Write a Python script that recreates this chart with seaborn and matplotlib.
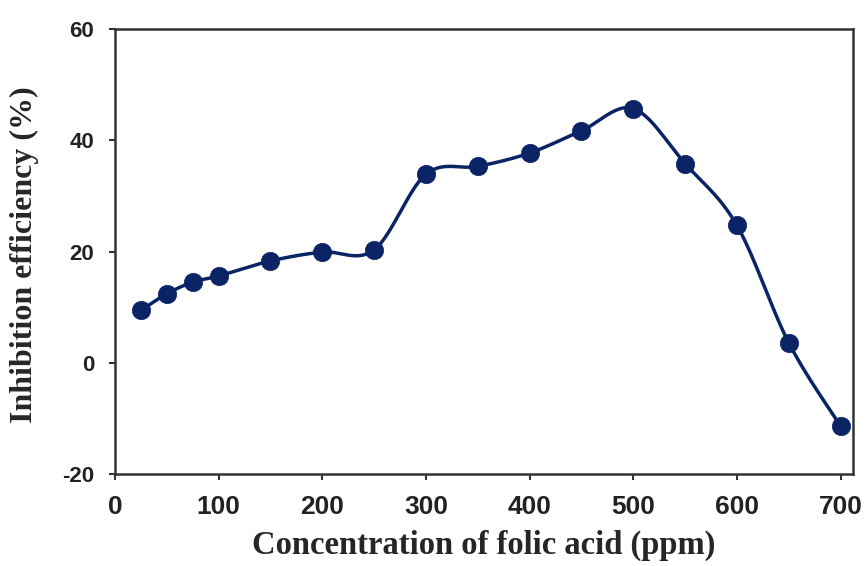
import numpy as np
import pandas as pd
import matplotlib
matplotlib.use("Agg")
import matplotlib.pyplot as plt
import seaborn as sns

# ---- data ----
concentration = [25, 50, 75, 100, 150, 200, 250, 300, 350, 400, 450, 500, 550, 600, 650, 700]
efficiency = [9.4, 12.4, 14.5, 15.6, 18.3, 19.9, 20.3, 33.9, 35.3, 37.7, 41.7, 45.7, 35.8, 24.7, 3.6, -11.4]
x_ticks = [0, 100, 200, 300, 400, 500, 600, 700]
y_ticks = [-20, 0, 20, 40, 60]
x_label = "Concentration of folic acid (ppm)"
y_label = "Inhibition efficiency (%)"

df = pd.DataFrame({"conc": concentration, "ie": efficiency})

sns.set_theme(style="white")
plt.rcParams["font.family"] = ["Liberation Sans", "DejaVu Sans"]

fig = plt.figure(figsize=(8.66, 5.66), dpi=100)
ax = fig.add_axes([115 / 866, 1 - 474 / 566, (853 - 115) / 866, (474 - 29) / 566])
ax.set_xlim(0, 712)
ax.set_ylim(-20, 60)

navy = "#0b2466"

# Smoothed connecting curve (Excel-like Catmull-Rom Bezier in display space)
def smooth_curve(ax, xs, ys, n=30):
    pts = ax.transData.transform(np.column_stack([xs, ys]))
    out = []
    m = len(pts)
    for i in range(m - 1):
        p0 = pts[i - 1] if i > 0 else pts[i]
        p1 = pts[i]
        p2 = pts[i + 1]
        p3 = pts[i + 2] if i + 2 < m else pts[i + 1]
        c1 = p1 + (p2 - p0) / 6.0
        c2 = p2 - (p3 - p1) / 6.0
        t = np.linspace(0, 1, n)[:, None]
        seg = ((1 - t) ** 3) * p1 + 3 * ((1 - t) ** 2) * t * c1 + 3 * (1 - t) * t ** 2 * c2 + t ** 3 * p2
        out.append(seg if i == 0 else seg[1:])
    out = np.vstack(out)
    return ax.transData.inverted().transform(out)

curve = smooth_curve(ax, df["conc"].values, df["ie"].values)
ax.plot(curve[:, 0], curve[:, 1], color=navy, lw=2.5, zorder=2, solid_capstyle="round")

sns.scatterplot(data=df, x="conc", y="ie", ax=ax, s=175, color=navy,
                edgecolor=navy, linewidth=0.5, zorder=3, clip_on=False)

ax.set_xticks(x_ticks)
ax.set_yticks(y_ticks)
ax.set_xticklabels([str(v) for v in x_ticks], fontsize=19, fontweight="bold", color="#222222")
ax.set_yticklabels([str(v) for v in y_ticks], fontsize=16, fontweight="bold", color="#222222")
ax.tick_params(axis="x", direction="out", length=4, width=1.5, pad=11, colors="#333333", labelcolor="#222222")
ax.tick_params(axis="y", direction="out", length=4, width=1.5, pad=11, colors="#333333", labelcolor="#222222")
ax.xaxis.set_ticks_position("bottom")
ax.yaxis.set_ticks_position("left")

for sp in ax.spines.values():
    sp.set_visible(True)
    sp.set_color("#333333")
    sp.set_linewidth(1.8)

ax.set_xlabel(x_label, fontsize=23.5, fontweight="bold", family=["Liberation Serif", "DejaVu Serif"], labelpad=8)
ax.set_ylabel(y_label, fontsize=23, fontweight="bold", family=["Liberation Serif", "DejaVu Serif"], labelpad=10)
ax.yaxis.set_label_coords(-110 / 738 + 22 / 738 - 0.0, 0.5)
ax.yaxis.label.set_horizontalalignment("center")
ax.yaxis.label.set_verticalalignment("center")
ax.yaxis.label.set_position((0, 0.5))
ax.yaxis.set_label_coords((24 - 115) / 738, (474 - 255) / 445)

fig.savefig("out.png", dpi=100)
